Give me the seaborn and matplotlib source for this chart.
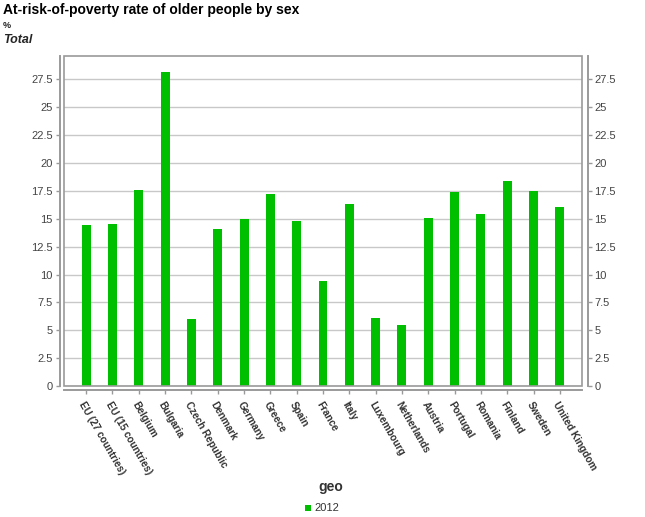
import matplotlib
matplotlib.use("Agg")
import matplotlib.pyplot as plt
import seaborn as sns
import pandas as pd
from matplotlib.patches import Rectangle

countries = ["EU (27 countries)", "EU (15 countries)", "Belgium", "Bulgaria", "Czech Republic",
             "Denmark", "Germany", "Greece", "Spain", "France", "Italy", "Luxembourg",
             "Netherlands", "Austria", "Portugal", "Romania", "Finland", "Sweden", "United Kingdom"]
values_2012 = [14.4, 14.5, 17.6, 28.2, 6.0, 14.1, 15.0, 17.2, 14.8, 9.4, 16.3, 6.1,
               5.5, 15.1, 17.4, 15.4, 18.4, 17.5, 16.1]
yticks = [0, 2.5, 5, 7.5, 10, 12.5, 15, 17.5, 20, 22.5, 25, 27.5]
ytick_labels = ["0", "2.5", "5", "7.5", "10", "12.5", "15", "17.5", "20", "22.5", "25", "27.5"]

df = pd.DataFrame({"geo": countries, "value": values_2012})

sns.set_theme(style="white")
plt.rcParams['font.family'] = ['Liberation Sans', 'DejaVu Sans']

bar_color = "#00BE00"
text_color = "#333333"
axis_color = "#9a9a9a"

fig = plt.figure(figsize=(6.45, 5.17), dpi=100)
ax = fig.add_axes([64/645, 1-386/517, (582-64)/645, (386-56)/517])

sns.barplot(data=df, x="geo", y="value", color=bar_color, width=0.34, ax=ax,
            saturation=1, edgecolor="none")

ax.set_xlim(-0.84, len(countries) - 1 + 0.84)
ax.set_ylim(0, 29.6)
ax.set_yticks(yticks)
ax.set_yticklabels(ytick_labels)
ax.yaxis.grid(True, color="#c8c8c8", linewidth=1)
ax.set_axisbelow(True)
ax.set_xlabel("")
ax.set_ylabel("")

for s in ["left", "bottom"]:
    ax.spines[s].set_position(("outward", 3))
    ax.spines[s].set_color(axis_color)
    ax.spines[s].set_linewidth(1.4)
ax.spines["top"].set_visible(False)
ax.spines["right"].set_visible(False)

ax.tick_params(axis="y", left=True, length=3, width=1, color=axis_color,
               labelsize=8, labelcolor="#444444", pad=2)
ax.tick_params(axis="x", bottom=True, length=3, width=1, color=axis_color,
               labelsize=7.2, labelcolor=text_color, pad=4)
ax.set_xticks(range(len(countries)))
ax.set_xticklabels(countries, rotation=-60, ha="left", va="top", rotation_mode="anchor",
                   fontweight="bold")

ax2 = ax.twinx()
ax2.set_ylim(ax.get_ylim())
ax2.set_yticks(yticks)
ax2.set_yticklabels(ytick_labels)
for s in ["left", "top", "bottom"]:
    ax2.spines[s].set_visible(False)
ax2.spines["right"].set_position(("outward", 4))
ax2.spines["right"].set_color(axis_color)
ax2.spines["right"].set_linewidth(1.4)
ax2.tick_params(axis="y", right=True, length=3, width=1, color=axis_color,
                labelsize=8, labelcolor="#444444", pad=2)
ax2.grid(False)

frame = Rectangle((0, 0), 1, 1, transform=ax.transAxes, fill=False,
                  edgecolor=axis_color, linewidth=1.2, zorder=5, clip_on=False)
ax.add_patch(frame)

fig.text(3/645, 1-10/517, "At-risk-of-poverty rate of older people by sex", fontsize=10,
         fontweight="bold", va="center", ha="left", color="black")
fig.text(3/645, 1-25/517, "%", fontsize=6.5, fontweight="bold", va="center", ha="left")
fig.text(3/645, 1-40/517, "Total", fontsize=9, fontweight="bold", fontstyle="italic",
         va="center", ha="left")

fig.text(331/645, 1-487/517, "geo", fontsize=10, fontweight="bold", ha="center", va="center",
         color=text_color)
fig.patches.append(Rectangle((305/645, 1-511/517), 6/645, 6/517, transform=fig.transFigure,
                             facecolor=bar_color, edgecolor="none", figure=fig))
fig.text(314/645, 1-508/517, "2012", fontsize=8, ha="left", va="center", color=text_color)

fig.savefig("out.png", dpi=100)
